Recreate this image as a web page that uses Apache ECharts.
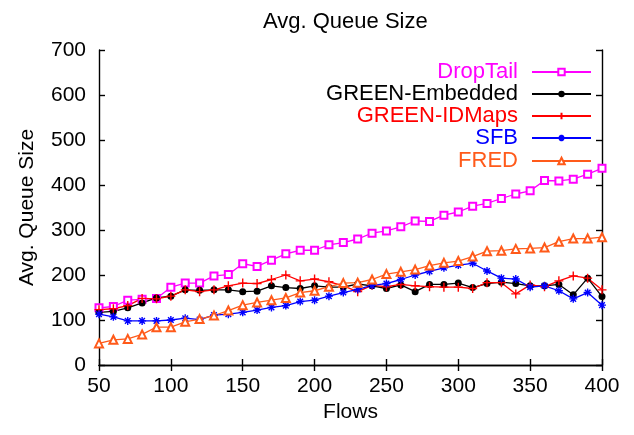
<!DOCTYPE html>
<html>
<head>
<meta charset="UTF-8">
<script src="https://cdn.jsdelivr.net/npm/echarts@6/dist/echarts.min.js"></script>
<style>
  html, body { margin: 0; padding: 0; background: #fff; }
  #chart { width: 634px; height: 435px; }
</style>
</head>
<body>
<div id="chart"></div>
<script type="text/javascript">
// flows on the x axis
var flows = [50, 60, 70, 80, 90, 100, 110, 120, 130, 140, 150, 160, 170, 180, 190, 200, 210, 220,
  230, 240, 250, 260, 270, 280, 290, 300, 310, 320, 330, 340, 350, 360, 370, 380, 390, 400];

var dropTail = [127, 130, 144, 146, 148, 173, 182, 182, 198, 201, 225, 219, 233, 247, 255, 255, 267, 272,
  280, 293, 298, 307, 320, 319, 333, 340, 353, 359, 370, 380, 387, 410, 409, 413, 424, 437];
var greenEmbedded = [117, 119, 127, 138, 149, 153, 167, 166, 167, 167, 163, 164, 176, 172, 170, 176, 173, 173,
  180, 176, 170, 178, 163, 179, 179, 182, 172, 181, 184, 181, 176, 176, 179, 156, 193, 152];
var greenIDMaps = [123, 125, 132, 148, 147, 153, 167, 163, 167, 176, 182, 181, 190, 200, 187, 191, 185, 176,
  163, 177, 174, 179, 176, 174, 173, 173, 170, 183, 183, 158, 178, 174, 187, 198, 193, 167];
var sfb = [113, 107, 98, 98, 98, 100, 104, 101, 111, 113, 117, 122, 128, 132, 141, 144, 153, 161,
  168, 177, 181, 190, 200, 208, 216, 222, 226, 209, 193, 191, 173, 176, 165, 147, 161, 133];
var fred = [48, 56, 58, 68, 84, 84, 96, 102, 110, 121, 133, 139, 144, 149, 161, 165, 174, 182,
  183, 190, 202, 207, 212, 221, 227, 231, 241, 253, 254, 258, 259, 261, 274, 281, 281, 284];

var xTicks = [50, 400, 50];   // min, max, step
var yTicks = [0, 700, 100];

var font = "'Liberation Sans', Arial, sans-serif";

function pairs(vals) {
  var out = [];
  for (var i = 0; i < flows.length; i++) {
    out.push([flows[i], vals[i]]);
  }
  return out;
}

var plusPath = 'path://M5,0L5,10M0,5L10,5';
var starPath = 'path://M5,0L5,10M0,5L10,5M1.5,1.5L8.5,8.5M1.5,8.5L8.5,1.5';

var lines = [
  { name: 'DropTail', data: dropTail, color: '#ff00ff', symbol: 'emptyRect', size: 7 },
  { name: 'GREEN-Embedded', data: greenEmbedded, color: '#000000', symbol: 'circle', size: 7 },
  { name: 'GREEN-IDMaps', data: greenIDMaps, color: '#ff0000', symbol: plusPath, size: 9, stroke: true },
  { name: 'SFB', data: sfb, color: '#0000ff', symbol: starPath, size: 8, stroke: true },
  { name: 'FRED', data: fred, color: '#ff5a1a', symbol: 'emptyTriangle', size: 8 }
];
var legendY = [73, 95, 117, 139, 162];

var series = [];
var legends = [];
lines.forEach(function (s, i) {
  var item = { color: s.color };
  if (s.stroke) {
    item = { color: s.color, borderColor: s.color, borderWidth: 1.4 };
  }
  series.push({
    name: s.name,
    type: 'line',
    data: pairs(s.data),
    symbol: s.symbol,
    symbolSize: s.size,
    showAllSymbol: true,
    lineStyle: { color: s.color, width: 1.3 },
    itemStyle: item,
    animation: false
  });
  legends.push({
    data: [{ name: s.name, textStyle: { color: s.color } }],
    orient: 'vertical',
    align: 'right',
    right: 42,
    top: legendY[i] - 12,
    padding: 0,
    itemWidth: 59,
    itemHeight: 8,
    selectedMode: false,
    textStyle: { fontFamily: font, fontSize: 22, color: s.color, padding: [0, 9, 0, 0] }
  });
});

var axisLine = { show: true, lineStyle: { color: '#000', width: 1.4 } };
var tickIn = { show: true, inside: true, length: 6, lineStyle: { color: '#000', width: 1.4 } };
var labelStyle = { color: '#000', fontFamily: font, fontSize: 21 };

var chart = echarts.init(document.getElementById('chart'));
chart.setOption({
  backgroundColor: '#fff',
  title: {
    text: 'Avg. Queue Size',
    left: 258,
    top: 6,
    textStyle: { fontFamily: font, fontSize: 22, fontWeight: 'normal', color: '#000' }
  },
  legend: legends,
  grid: { left: 99, right: 32, top: 50, bottom: 70 },
  xAxis: [{
    type: 'value', min: xTicks[0], max: xTicks[1], interval: xTicks[2],
    name: 'Flows', nameLocation: 'middle', nameGap: 36,
    nameTextStyle: labelStyle,
    axisLine: axisLine, axisTick: tickIn,
    axisLabel: { margin: 11, color: '#000', fontFamily: font, fontSize: 21 },
    splitLine: { show: false }
  }, {
    type: 'value', position: 'top', min: xTicks[0], max: xTicks[1], interval: xTicks[2],
    axisLine: axisLine, axisTick: tickIn, axisLabel: { show: false }, splitLine: { show: false }
  }],
  yAxis: [{
    type: 'value', min: yTicks[0], max: yTicks[1], interval: yTicks[2],
    name: 'Avg. Queue Size', nameLocation: 'middle', nameGap: 61,
    nameTextStyle: labelStyle,
    axisLine: axisLine, axisTick: tickIn,
    axisLabel: { margin: 13, color: '#000', fontFamily: font, fontSize: 21 },
    splitLine: { show: false }
  }, {
    type: 'value', position: 'right', min: yTicks[0], max: yTicks[1], interval: yTicks[2],
    axisLine: axisLine, axisTick: tickIn, axisLabel: { show: false }, splitLine: { show: false }
  }],
  series: series
});
</script>
</body>
</html>
